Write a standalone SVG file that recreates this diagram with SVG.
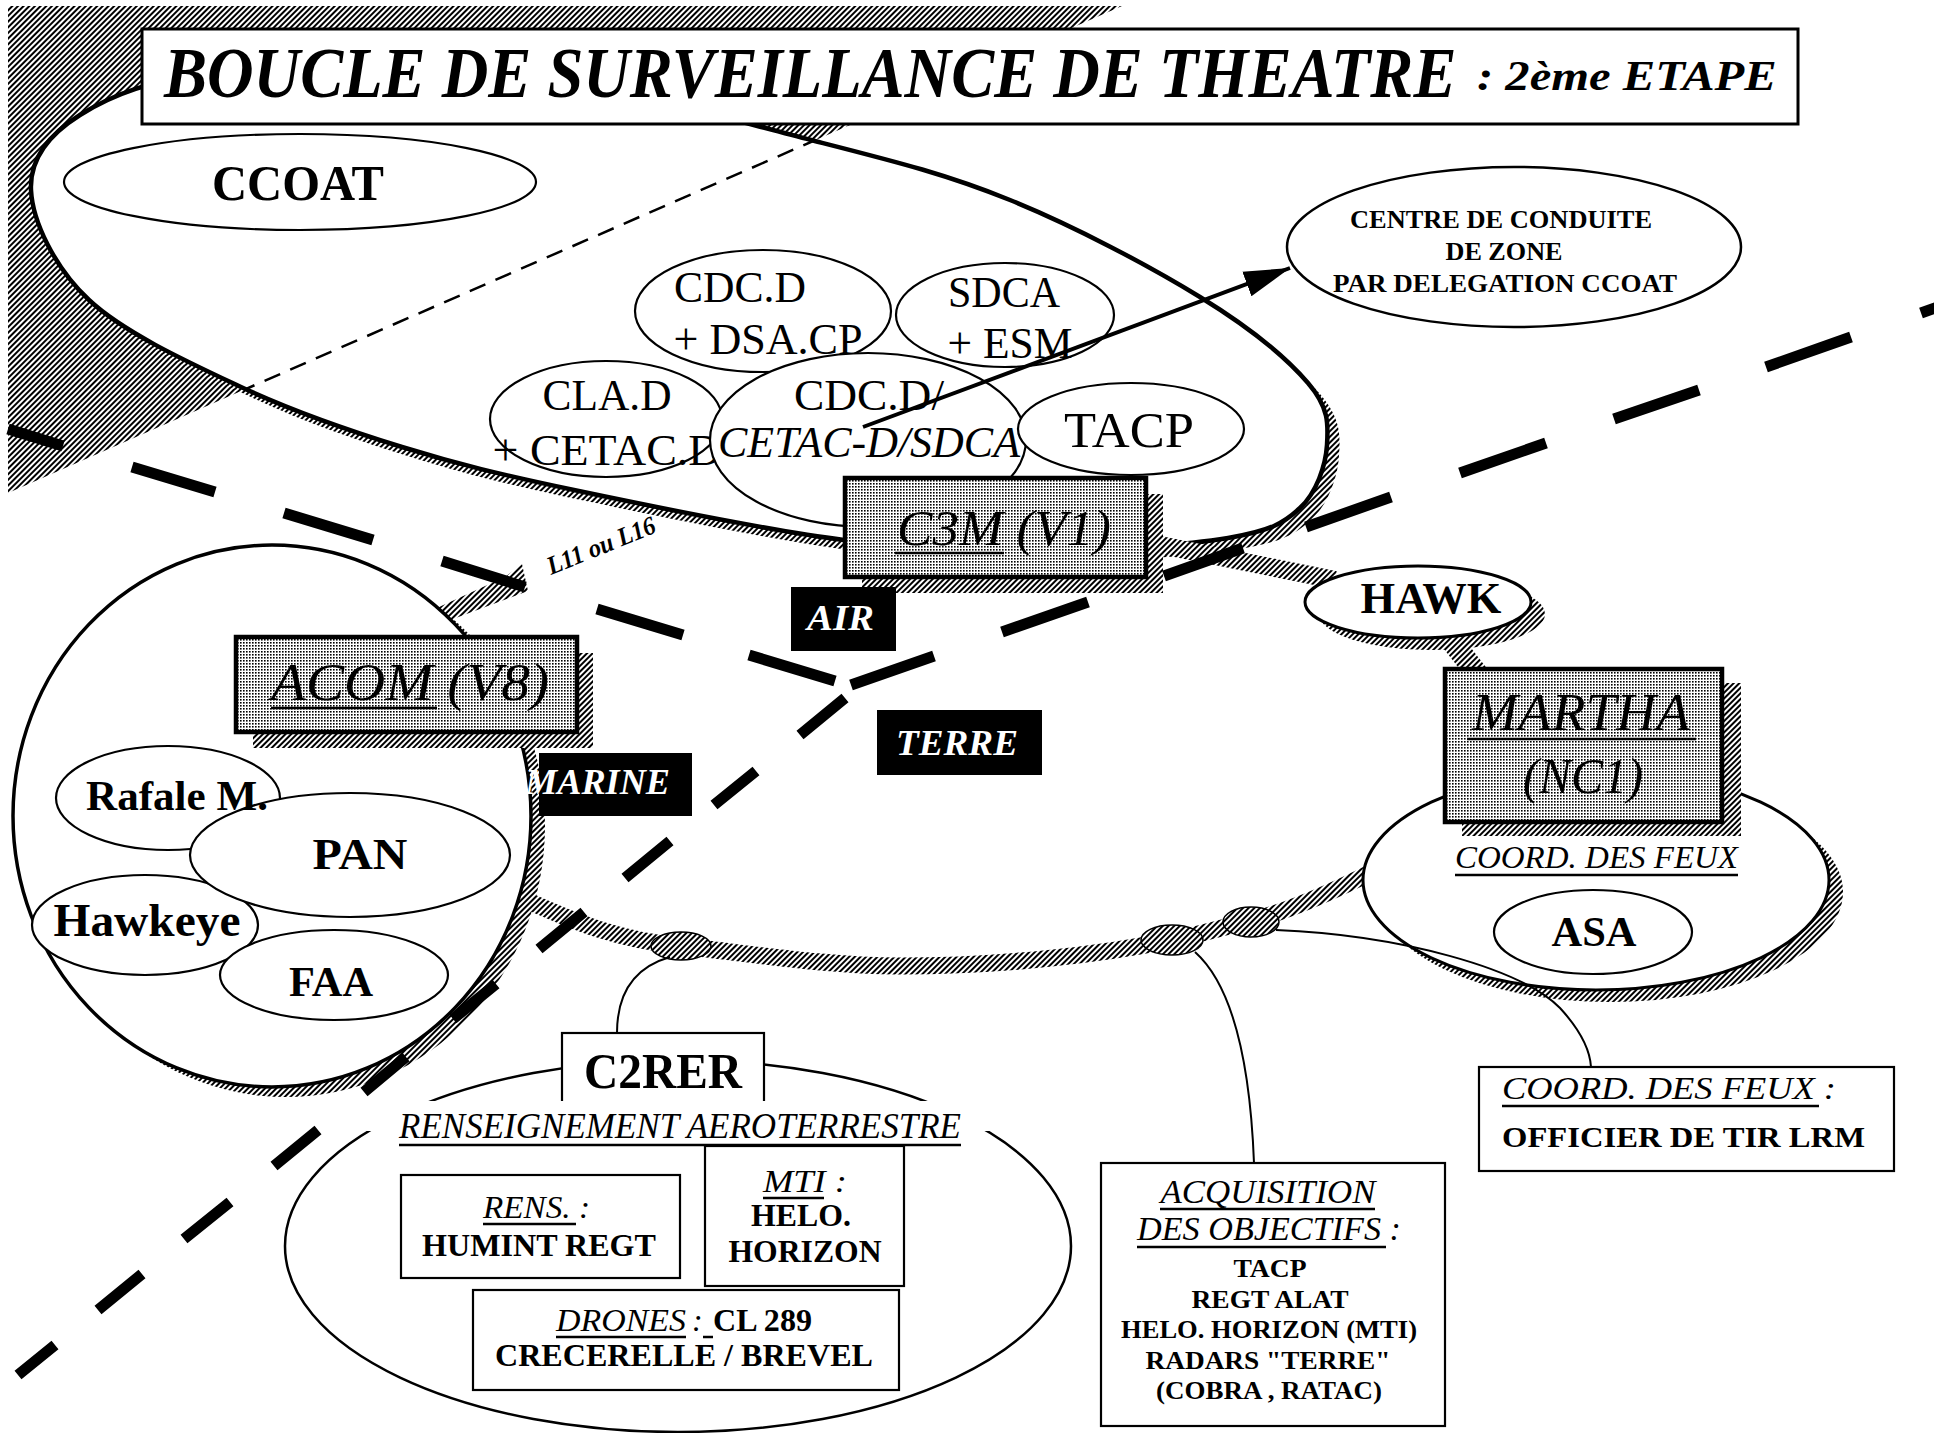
<svg xmlns="http://www.w3.org/2000/svg" width="1934" height="1433" viewBox="0 0 1934 1433">
<defs>
<pattern id="hatch" width="4" height="4" patternUnits="userSpaceOnUse" patternTransform="rotate(45)">
<rect width="4" height="4" fill="#fff"/><rect width="2" height="4" fill="#000"/>
</pattern>
<pattern id="dots" width="3" height="3" patternUnits="userSpaceOnUse">
<rect width="3" height="3" fill="#fff"/><rect width="1.6" height="1.6" fill="#000"/>
</pattern>
<path id="bigEll" d="M31,190 C32.5,220.8 54,267.2 89,300 C124,332.8 188.8,362.5 241,387 C293.2,411.5 346.5,429.8 402,447 C457.5,464.2 500.3,474.5 574,490 C647.7,505.5 764.7,530 844,540 C923.3,550 986,550.3 1050,550 C1114,549.7 1186.3,545 1228,538 C1269.7,531 1283.5,523.5 1300,508 C1316.5,492.5 1325.7,465.8 1327,445 C1328.3,424.2 1329.2,407.7 1308,383 C1286.8,358.3 1249.7,327.5 1200,297 C1150.3,266.5 1074.8,226.2 1010,200 C945.2,173.8 896,161.7 811,140 C726,118.3 598.5,81.3 500,70 C401.5,58.7 290,64.5 220,72 C150,79.5 111.5,95.3 80,115 C48.5,134.7 29.5,159.2 31,190 Z"/>
<clipPath id="bigClip"><use href="#bigEll"/></clipPath>
<marker id="arrow" markerUnits="userSpaceOnUse" markerWidth="48" markerHeight="32" refX="46" refY="16" orient="auto"><path d="M0,3 L46,16 L0,29 Z" fill="#000"/></marker>
</defs>
<style>
.t{font-family:"Liberation Serif","Times New Roman",serif;fill:#000}
.b{font-weight:bold}
.i{font-style:italic}
.m{text-anchor:middle}
.ell{fill:#fff;stroke:#000;stroke-width:2.2}
.band{fill:none;stroke:url(#hatch)}
.dash{stroke:#000;stroke-width:11;fill:none}
.conn{fill:none;stroke:#000;stroke-width:2}
.box{fill:#fff;stroke:#000;stroke-width:2.2}
.gbox{fill:url(#dots);stroke:#000;stroke-width:4.5}
.sh{fill:url(#hatch)}
.ul{stroke:#000;stroke-width:2.5}
.lab{fill:#000}
.wt{fill:#fff;font-family:"Liberation Serif","Times New Roman",serif;font-weight:bold;font-style:italic}
</style>
<rect width="1934" height="1433" fill="#fff"/>

<!-- background hatched wedge and CCOAT zone -->
<g id="ccoat-zone">
<polygon points="8,6 1122,6 8,493" fill="url(#hatch)"/>
<use href="#bigEll" fill="url(#hatch)" transform="translate(12,11)"/>
<use href="#bigEll" fill="#fff" stroke="#000" stroke-width="4.5"/>
<line x1="8" y1="493" x2="1122" y2="6" clip-path="url(#bigClip)" stroke="#000" stroke-width="2.5" stroke-dasharray="17 11"/>
</g>

<g id="title">
<rect x="142" y="29" width="1656" height="95" fill="#fff" stroke="#000" stroke-width="3"/>
<text x="0" y="0" font-size="72" class="t b i" transform="translate(164,97) scale(0.9,1)" textLength="1436" lengthAdjust="spacingAndGlyphs">BOUCLE DE SURVEILLANCE DE THEATRE</text>
<text x="0" y="0" font-size="42" class="t b i" transform="translate(1477,90) scale(0.9,1)" textLength="333" lengthAdjust="spacingAndGlyphs">: 2ème ETAPE</text>
</g>

<g id="ccoat">
<ellipse cx="300" cy="182" rx="236" ry="48" class="ell"/>
<text x="298" y="200" font-size="50" class="t b m" textLength="172" lengthAdjust="spacingAndGlyphs">CCOAT</text>
</g>

<g id="clad-cetac">
<ellipse cx="606" cy="419" rx="116" ry="58" class="ell"/>
<text x="607" y="410" font-size="44" class="t m" textLength="129" lengthAdjust="spacingAndGlyphs">CLA.D</text>
<text x="607" y="465" font-size="44" class="t m" textLength="229" lengthAdjust="spacingAndGlyphs">+ CETAC.D</text>
</g>
<g id="cdcd-dsacp">
<ellipse cx="763" cy="311" rx="128" ry="61" class="ell"/>
</g>
<g id="sdca-esm">
<ellipse cx="1005" cy="315" rx="109" ry="52" class="ell"/>
</g>
<g id="cdcd-cetac-sdca">
<ellipse cx="868" cy="440" rx="158" ry="87" class="ell"/>
</g>
<g id="tacp">
<ellipse cx="1131" cy="429" rx="113" ry="46" class="ell"/>
<text x="1129" y="447" font-size="50" class="t m" textLength="130" lengthAdjust="spacingAndGlyphs">TACP</text>
</g>
<g id="ccoat-texts">
<text x="740" y="302" font-size="44" class="t m" textLength="132" lengthAdjust="spacingAndGlyphs">CDC.D</text>
<text x="768" y="354" font-size="44" class="t m" textLength="189" lengthAdjust="spacingAndGlyphs">+ DSA.CP</text>
<text x="1004" y="307" font-size="44" class="t m" textLength="112" lengthAdjust="spacingAndGlyphs">SDCA</text>
<text x="1010" y="358" font-size="44" class="t m" textLength="125" lengthAdjust="spacingAndGlyphs">+ ESM</text>
<text x="869" y="410" font-size="44" class="t m" textLength="150" lengthAdjust="spacingAndGlyphs">CDC.D/</text>
<text x="869" y="457" font-size="44" class="t i m" textLength="302" lengthAdjust="spacingAndGlyphs">CETAC-D/SDCA</text>
</g>

<g id="centre-conduite">
<ellipse cx="1514" cy="247" rx="227" ry="80" fill="#fff" stroke="#000" stroke-width="2.5"/>
<text x="1501" y="228" font-size="26" class="t b m" textLength="302" lengthAdjust="spacingAndGlyphs">CENTRE DE CONDUITE</text>
<text x="1504" y="260" font-size="26" class="t b m" textLength="117" lengthAdjust="spacingAndGlyphs">DE ZONE</text>
<text x="1505" y="292" font-size="26" class="t b m" textLength="344" lengthAdjust="spacingAndGlyphs">PAR DELEGATION CCOAT</text>
</g>

<!-- connectors: hatched network bands, thin lines, arrow -->
<g id="connectors">
<line x1="1150" y1="543" x2="1335" y2="580" class="band" stroke-width="18"/>
<line x1="1440" y1="626" x2="1482" y2="680" class="band" stroke-width="22"/>
<path d="M515,895 C580,925 620,940 681,946 C760,955 830,966 900,966 C1000,966 1100,955 1172,940 C1210,932 1230,925 1251,921 C1290,910 1330,893 1372,872" class="band" stroke-width="17"/>
<polygon points="420,628 439,607 505,577 522,564 528,591 453,619 432,642" fill="url(#hatch)"/>
</g>

<g id="acom-zone">
<ellipse cx="286" cy="826" rx="259" ry="271" class="sh"/>
<ellipse cx="272" cy="816" rx="259" ry="271" fill="#fff" stroke="#000" stroke-width="3.5"/>
</g>
<g id="rafale"><ellipse cx="168" cy="798" rx="112" ry="52" class="ell"/></g>
<g id="hawkeye"><ellipse cx="145" cy="925" rx="113" ry="50" class="ell"/>
<text x="147" y="936" font-size="46" class="t b m" textLength="187" lengthAdjust="spacingAndGlyphs">Hawkeye</text></g>
<g id="faa"><ellipse cx="334" cy="975" rx="114" ry="45" class="ell"/>
<text x="331" y="996" font-size="42" class="t b m" textLength="84" lengthAdjust="spacingAndGlyphs">FAA</text></g>
<g id="pan"><ellipse cx="350" cy="855" rx="160" ry="62" class="ell"/>
<text x="360" y="869" font-size="45" class="t b m" textLength="95" lengthAdjust="spacingAndGlyphs">PAN</text></g>
<g id="rafale-label">
<text x="177" y="810" font-size="42" class="t b m" textLength="182" lengthAdjust="spacingAndGlyphs">Rafale M.</text></g>

<g id="acom">
<rect x="253" y="653" width="340" height="95" class="sh"/>
<rect x="236" y="637" width="341" height="95" class="gbox"/>
<text x="271" y="700" font-size="52" class="t i" textLength="278" lengthAdjust="spacingAndGlyphs">ACOM (V8)</text>
<line x1="271" y1="708" x2="437" y2="708" class="ul" stroke-width="3"/>
</g>

<g id="c3m">
<rect x="862" y="494" width="301" height="99" class="sh"/>
<rect x="845" y="478" width="301" height="99" class="gbox"/>
<text x="897" y="545" font-size="50" class="t i" textLength="214" lengthAdjust="spacingAndGlyphs">C3M (V1)</text>
<line x1="895" y1="553" x2="1004" y2="553" class="ul" stroke-width="3"/>
</g>

<g id="hawk">
<ellipse cx="1432" cy="614" rx="113" ry="36" class="sh"/>
<ellipse cx="1418" cy="602" rx="113" ry="36" fill="#fff" stroke="#000" stroke-width="3"/>
<text x="1431" y="613" font-size="44" class="t b m" textLength="141" lengthAdjust="spacingAndGlyphs">HAWK</text>
</g>

<g id="coord-feux-zone">
<ellipse cx="1610" cy="892" rx="233" ry="110" class="sh"/>
<ellipse cx="1596" cy="880" rx="233" ry="110" fill="#fff" stroke="#000" stroke-width="3"/>
<text x="1455" y="868" font-size="32" class="t i" textLength="283" lengthAdjust="spacingAndGlyphs">COORD. DES FEUX</text>
<line x1="1455" y1="875" x2="1738" y2="875" class="ul" stroke-width="2"/>
</g>
<g id="asa">
<ellipse cx="1593" cy="932" rx="99" ry="42" class="ell"/>
<text x="1594" y="946" font-size="42" class="t b m" textLength="85" lengthAdjust="spacingAndGlyphs">ASA</text>
</g>

<g id="martha">
<rect x="1462" y="683" width="279" height="153" class="sh"/>
<rect x="1445" y="669" width="277" height="153" class="gbox"/>
<text x="1472" y="730" font-size="52" class="t i" textLength="218" lengthAdjust="spacingAndGlyphs">MARTHA</text>
<line x1="1467" y1="739" x2="1696" y2="739" class="ul" stroke-width="3"/>
<text x="1523" y="793" font-size="50" class="t i" textLength="120" lengthAdjust="spacingAndGlyphs">(NC1)</text>
</g>

<g id="ring-nodes">
<ellipse id="node1" cx="681" cy="946" rx="30" ry="14" fill="url(#hatch)" stroke="#000" stroke-width="1.5"/>
<ellipse id="node2" cx="1172" cy="940" rx="31" ry="15" fill="url(#hatch)" stroke="#000" stroke-width="1.5"/>
<ellipse id="node3" cx="1251" cy="922" rx="28" ry="15" fill="url(#hatch)" stroke="#000" stroke-width="1.5"/>
</g>

<g id="links">
<path d="M670,957 C632,968 617,995 617,1033" class="conn"/>
<path d="M1195,952 C1232,985 1250,1060 1254,1163" class="conn"/>
<path d="M1276,930 C1400,935 1520,968 1560,1008 C1582,1032 1590,1050 1591,1067" class="conn" stroke-width="2.5"/>
<line x1="863" y1="427" x2="1290" y2="268" stroke="#000" stroke-width="4" marker-end="url(#arrow)"/>
</g>

<g id="c2rer">
<ellipse cx="678" cy="1246" rx="393" ry="186" fill="#fff" stroke="#000" stroke-width="2.5"/>
<rect x="562" y="1033" width="202" height="72" class="box"/>
<rect x="366" y="1101" width="628" height="30" fill="#fff"/>
<text x="663" y="1088" font-size="50" class="t b m" textLength="158" lengthAdjust="spacingAndGlyphs">C2RER</text>
<text x="399" y="1138" font-size="36" class="t i" textLength="562" lengthAdjust="spacingAndGlyphs">RENSEIGNEMENT AEROTERRESTRE</text>
<line x1="399" y1="1145" x2="961" y2="1145" class="ul"/>
</g>
<g id="rens">
<rect x="401" y="1175" width="279" height="103" class="box"/>
<text x="483" y="1218" font-size="32" class="t i" textLength="107" lengthAdjust="spacingAndGlyphs">RENS. :</text>
<line x1="483" y1="1224" x2="576" y2="1224" class="ul"/>
<text x="539" y="1256" font-size="32" class="t b m" textLength="234" lengthAdjust="spacingAndGlyphs">HUMINT REGT</text>
</g>
<g id="mti">
<rect x="705" y="1146" width="199" height="140" class="box"/>
<text x="763" y="1192" font-size="32" class="t i" textLength="84" lengthAdjust="spacingAndGlyphs">MTI :</text>
<line x1="763" y1="1198" x2="824" y2="1198" class="ul"/>
<text x="801" y="1226" font-size="32" class="t b m" textLength="100" lengthAdjust="spacingAndGlyphs">HELO.</text>
<text x="805" y="1262" font-size="32" class="t b m" textLength="153" lengthAdjust="spacingAndGlyphs">HORIZON</text>
</g>
<g id="drones">
<rect x="473" y="1290" width="426" height="100" class="box"/>
<text x="556" y="1331" font-size="32" class="t i" textLength="130" lengthAdjust="spacingAndGlyphs">DRONES</text>
<text x="692" y="1331" font-size="32" class="t i">:</text>
<text x="713" y="1331" font-size="32" class="t b" textLength="99" lengthAdjust="spacingAndGlyphs">CL 289</text>
<line x1="556" y1="1337" x2="686" y2="1337" class="ul"/>
<line x1="703" y1="1337" x2="713" y2="1337" class="ul"/>
<text x="684" y="1366" font-size="32" class="t b m" textLength="378" lengthAdjust="spacingAndGlyphs">CRECERELLE / BREVEL</text>
</g>

<g id="acquisition">
<rect x="1101" y="1163" width="344" height="263" class="box"/>
<text x="1268" y="1203" font-size="33" class="t i m" textLength="215" lengthAdjust="spacingAndGlyphs">ACQUISITION</text>
<line x1="1160" y1="1209" x2="1375" y2="1209" class="ul"/>
<text x="1269" y="1240" font-size="33" class="t i m" textLength="264" lengthAdjust="spacingAndGlyphs">DES OBJECTIFS :</text>
<line x1="1137" y1="1247" x2="1386" y2="1247" class="ul"/>
<text x="1270" y="1277" font-size="26" class="t b m" textLength="73" lengthAdjust="spacingAndGlyphs">TACP</text>
<text x="1270" y="1308" font-size="26" class="t b m" textLength="157" lengthAdjust="spacingAndGlyphs">REGT ALAT</text>
<text x="1269" y="1338" font-size="26" class="t b m" textLength="296" lengthAdjust="spacingAndGlyphs">HELO. HORIZON (MTI)</text>
<text x="1268" y="1369" font-size="26" class="t b m" textLength="245" lengthAdjust="spacingAndGlyphs">RADARS "TERRE"</text>
<text x="1269" y="1399" font-size="26" class="t b m" textLength="226" lengthAdjust="spacingAndGlyphs">(COBRA , RATAC)</text>
</g>

<g id="coord-officier">
<rect x="1479" y="1067" width="415" height="104" class="box"/>
<text x="1502" y="1099" font-size="32" class="t i" textLength="334" lengthAdjust="spacingAndGlyphs">COORD. DES FEUX :</text>
<line x1="1502" y1="1106" x2="1819" y2="1106" class="ul"/>
<text x="1502" y="1147" font-size="30" class="t b" textLength="363" lengthAdjust="spacingAndGlyphs">OFFICIER DE  TIR LRM</text>
</g>

<g id="boundaries">
<path class="dash" d="M8,429 L63,446 M132,467 L215,492 M284,513 L373,540 M442,561 L525,587 M597,609 L683,635 M749,655 L835,681"/>
<path class="dash" d="M851,685 L934,656 M1002,632 L1088,602 M1164,576 L1243,548 M1306,527 L1391,497 M1460,473 L1546,443 M1614,419 L1699,390 M1766,367 L1851,337 M1921,313 L1960,299"/>
<path class="dash" d="M845,698 L800,735 M756,771 L714,805 M670,841 L625,878 M584,912 L539,949 M496,984 L453,1019 M406,1057 L364,1092 M318,1130 L274,1166 M230,1202 L184,1239 M142,1274 L98,1310 M55,1345 L18,1375"/>
</g>

<g id="air"><rect x="791" y="587" width="105" height="64" class="lab"/>
<text x="807" y="630" font-size="36" class="wt" textLength="67" lengthAdjust="spacingAndGlyphs">AIR</text></g>
<g id="terre"><rect x="877" y="710" width="165" height="65" class="lab"/>
<text x="896" y="755" font-size="36" class="wt" textLength="122" lengthAdjust="spacingAndGlyphs">TERRE</text></g>
<g id="marine"><rect x="539" y="753" width="153" height="63" class="lab"/>
<text x="525" y="794" font-size="36" class="wt" textLength="145" lengthAdjust="spacingAndGlyphs">MARINE</text></g>

<g id="l11-label">
<text x="551" y="575" font-size="26" class="t b i" transform="rotate(-22 551 575)" textLength="115" lengthAdjust="spacingAndGlyphs">L11 ou L16</text>
</g>
</svg>
